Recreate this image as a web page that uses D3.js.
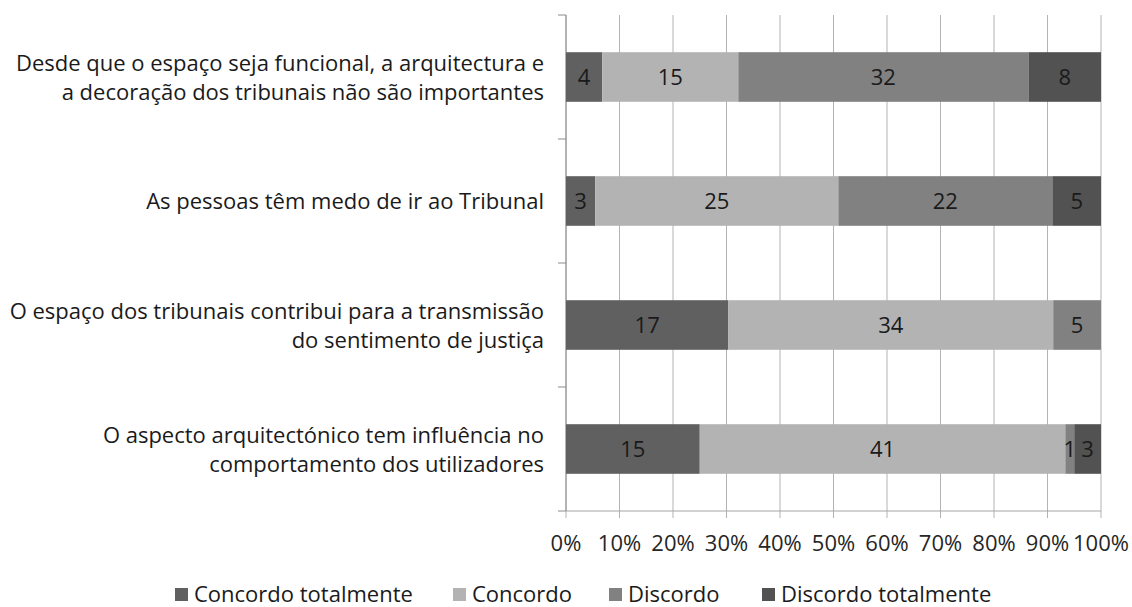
<!DOCTYPE html>
<html>
<head>
<meta charset="utf-8">
<script src="https://cdn.jsdelivr.net/npm/d3@7"></script>
<style>
  body { margin: 0; background: #fff; }
  svg text { font-family: "Open Sans", sans-serif; }
</style>
</head>
<body>
<svg id="chart" width="1132" height="607"></svg>
<script>
// categories, top to bottom
var categories = [
    ["Desde que o espaço seja funcional, a arquitectura e", "a decoração dos tribunais não são importantes"],
    ["As pessoas têm medo de ir ao Tribunal"],
    ["O espaço dos tribunais contribui para a transmissão", "do sentimento de justiça"],
    ["O aspecto arquitectónico tem influência no", "comportamento dos utilizadores"]
];
var seriesNames = ["Concordo totalmente", "Concordo", "Discordo", "Discordo totalmente"];
var concordoTotalmente = [4, 3, 17, 15];
var concordo = [15, 25, 34, 41];
var discordo = [32, 22, 5, 1];
var discordoTotalmente = [8, 5, 0, 3];
var seriesColors = ["#606060", "#b3b3b3", "#818181", "#525252"];
var tickLabels = ["0%", "10%", "20%", "30%", "40%", "50%", "60%", "70%", "80%", "90%", "100%"];

var svg = d3.select("#chart");
var plotLeft = 566, plotRight = 1101, plotTop = 15, plotBottom = 511;
var fs = 22;

var rows = categories.map(function(c, i) {
    return {
        id: i,
        label: c,
        values: [concordoTotalmente[i], concordo[i], discordo[i], discordoTotalmente[i]]
    };
});

var x = d3.scaleLinear().domain([0, 1]).range([plotLeft, plotRight]);
var y = d3.scaleBand().domain(rows.map(function(d) { return d.id; }))
    .range([plotTop, plotBottom]).paddingInner(0.6).paddingOuter(0.3);
var yOuter = d3.scaleBand().domain(rows.map(function(d) { return d.id; })).range([plotTop, plotBottom]);

// gridlines
svg.append("g").selectAll("line")
    .data(d3.range(0, 11))
    .enter().append("line")
    .attr("x1", function(d) { return x(d / 10); })
    .attr("x2", function(d) { return x(d / 10); })
    .attr("y1", plotTop).attr("y2", plotBottom + 7)
    .attr("stroke", "#b3b3b3").attr("stroke-width", 1);

// x axis line
svg.append("line")
    .attr("x1", plotLeft).attr("x2", plotRight).attr("y1", plotBottom).attr("y2", plotBottom)
    .attr("stroke", "#a6a6a6");
// y axis line + ticks
svg.append("line")
    .attr("x1", plotLeft).attr("x2", plotLeft).attr("y1", plotTop).attr("y2", plotBottom)
    .attr("stroke", "#8c8c8c");
svg.append("g").selectAll("line")
    .data(rows.map(function(d) { return yOuter(d.id); }).concat([plotBottom]))
    .enter().append("line")
    .attr("x1", plotLeft - 8).attr("x2", plotLeft)
    .attr("y1", function(d) { return d; }).attr("y2", function(d) { return d; })
    .attr("stroke", "#8c8c8c");

// tick labels
svg.append("g").selectAll("text")
    .data(tickLabels)
    .enter().append("text")
    .attr("x", function(d, i) { return x(i / 10); })
    .attr("y", 551)
    .attr("text-anchor", "middle")
    .attr("font-size", fs)
    .attr("fill", "#262626")
    .text(function(d) { return d; });

// bars
var row = svg.append("g").selectAll("g.row")
    .data(rows)
    .enter().append("g").attr("class", "row");

row.each(function(d) {
    var total = d3.sum(d.values);
    var acc = 0;
    var segs = d.values.map(function(v, k) {
        var s = { v: v, k: k, x0: acc / total, x1: (acc + v) / total };
        acc += v;
        return s;
    });
    var g = d3.select(this);
    g.selectAll("rect").data(segs).enter().append("rect")
        .attr("x", function(s) { return x(s.x0); })
        .attr("width", function(s) { return x(s.x1) - x(s.x0); })
        .attr("y", y(d.id))
        .attr("height", y.bandwidth())
        .attr("fill", function(s) { return seriesColors[s.k]; });
    g.selectAll("text.val").data(segs.filter(function(s) { return s.v > 0; }))
        .enter().append("text").attr("class", "val")
        .attr("x", function(s) { return (x(s.x0) + x(s.x1)) / 2; })
        .attr("y", y(d.id) + y.bandwidth() / 2 + 8)
        .attr("text-anchor", "middle")
        .attr("font-size", fs)
        .attr("fill", "#1a1a1a")
        .text(function(s) { return s.v; });

    var n = d.label.length;
    var cy = yOuter(d.id) + yOuter.bandwidth() / 2;
    g.selectAll("text.cat").data(d.label).enter().append("text").attr("class", "cat")
        .attr("x", 544)
        .attr("y", function(t, i) { return cy + (i - (n - 1) / 2) * 29 + 8; })
        .attr("text-anchor", "end")
        .attr("font-size", fs)
        .attr("fill", "#1a1a1a")
        .text(function(t) { return t; });
});

// legend
var legendX = [175, 453, 609, 762];
var legend = svg.append("g").selectAll("g")
    .data(seriesNames)
    .enter().append("g")
    .attr("transform", function(d, i) { return "translate(" + legendX[i] + ",595)"; });
legend.append("rect")
    .attr("x", 0).attr("y", -7).attr("width", 13).attr("height", 13)
    .attr("fill", function(d, i) { return seriesColors[i]; });
legend.append("text")
    .attr("x", 19).attr("y", 7)
    .attr("font-size", fs)
    .attr("fill", "#1a1a1a")
    .text(function(d) { return d; });
</script>
</body>
</html>
